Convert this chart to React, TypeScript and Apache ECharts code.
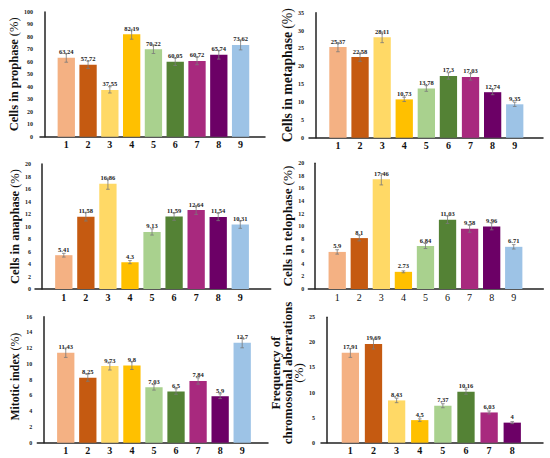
import React, { useEffect, useRef } from "react";
import * as echarts from "echarts";

const FONT = "'Liberation Serif', 'Times New Roman', serif";

const colors9 = ["#F4B183", "#C55A11", "#FFD966", "#FFC000", "#A9D18E", "#548235", "#A8297E", "#6C0066", "#9DC3E6"];
const categories9 = ["1", "2", "3", "4", "5", "6", "7", "8", "9"];
const categories8 = ["1", "2", "3", "4", "5", "6", "7", "8"];

const prophase = [63.24, 57.72, 37.55, 82.19, 70.22, 60.05, 60.72, 65.74, 73.62];
const prophaseErr = [3.5, 3, 2.5, 4, 3.5, 3, 3, 3.5, 4];
const prophaseLabels = ["63,24", "57,72", "37,55", "82,19", "70,22", "60,05", "60,72", "65,74", "73,62"];

const metaphase = [25.37, 22.58, 28.11, 10.73, 13.78, 17.3, 17.03, 12.74, 9.35];
const metaphaseErr = [1.3, 1.2, 1.5, 0.6, 0.8, 0.9, 0.9, 0.7, 0.6];
const metaphaseLabels = ["25,37", "22,58", "28,11", "10,73", "13,78", "17,3", "17,03", "12,74", "9,35"];

const anaphase = [5.41, 11.58, 16.86, 4.3, 9.13, 11.59, 12.64, 11.54, 10.31];
const anaphaseErr = [0.3, 0.7, 0.9, 0.25, 0.5, 0.6, 0.7, 0.6, 0.6];
const anaphaseLabels = ["5.41", "11,58", "16,86", "4.3", "9.13", "11,59", "12,64", "11,54", "10,31"];

const telophase = [5.9, 8.1, 17.46, 2.73, 6.84, 11.03, 9.58, 9.96, 6.71];
const telophaseErr = [0.35, 0.45, 0.9, 0.15, 0.4, 0.6, 0.55, 0.55, 0.35];
const telophaseLabels = ["5.9", "8.1", "17.46", "2.73", "6.84", "11.03", "9.58", "9.96", "6.71"];

const mitotic = [11.43, 8.25, 9.73, 9.8, 7.03, 6.5, 7.84, 5.9, 12.7];
const mitoticErr = [0.6, 0.45, 0.5, 0.5, 0.35, 0.35, 0.4, 0.3, 0.65];
const mitoticLabels = ["11,43", "8,25", "9,73", "9,8", "7,03", "6,5", "7,84", "5,9", "12,7"];

const aberr = [17.91, 19.69, 8.43, 4.5, 7.37, 10.16, 6.03, 4];
const aberrErr = [0.9, 1.0, 0.45, 0.25, 0.4, 0.5, 0.3, 0.2];
const aberrLabels = ["17,91", "19,69", "8,43", "4,5", "7,37", "10,16", "6,03", "4"];

type Panel = {
  cats: string[];
  values: number[];
  err: number[];
  labels: string[];
  title: string;
  yMax: number;
  yInterval: number;
  grid: { left: number; top: number; width: number; height: number };
  xMin: number;
  xMax: number;
  nameGap: number;
  titleSize: number;
  lineH: number;
  namePad: number[];
  catBold: boolean;
  tickMargin: number;
};

const panels: Panel[] = [
  {
    cats: categories9, values: prophase, err: prophaseErr, labels: prophaseLabels,
    title: "{b|Cells in prophase} {r|(%)}", yMax: 100, yInterval: 10,
    grid: { left: 40, top: 12, width: 225, height: 124.7 }, xMin: -0.206, xMax: 10.12,
    nameGap: 14, titleSize: 12.5, lineH: 14, namePad: [0, 0, 0, 0], catBold: true, tickMargin: 7,
  },
  {
    cats: categories9, values: metaphase, err: metaphaseErr, labels: metaphaseLabels,
    title: "{b|Cells in metaphase} {r|(%)}", yMax: 35, yInterval: 5,
    grid: { left: 309, top: 12.7, width: 234, height: 125 }, xMin: -0.31, xMax: 10.28,
    nameGap: 12, titleSize: 13.8, lineH: 15, namePad: [0, 0, 0, 0], catBold: true, tickMargin: 5,
  },
  {
    cats: categories9, values: anaphase, err: anaphaseErr, labels: anaphaseLabels,
    title: "{b|Cells in anaphase} {r|(%)}", yMax: 20, yInterval: 2,
    grid: { left: 35, top: 164, width: 235.7, height: 125 }, xMin: -0.306, xMax: 10.38,
    nameGap: 10, titleSize: 12.5, lineH: 14, namePad: [0, 0, 0, 0], catBold: true, tickMargin: 4,
  },
  {
    cats: categories9, values: telophase, err: telophaseErr, labels: telophaseLabels,
    title: "{b|Cells in telophase} {r|(%)}", yMax: 20, yInterval: 2,
    grid: { left: 308.3, top: 163.3, width: 235, height: 125.7 }, xMin: -0.31, xMax: 10.34,
    nameGap: 10, titleSize: 13.2, lineH: 15, namePad: [0, 0, 0, 0], catBold: false, tickMargin: 4,
  },
  {
    cats: categories9, values: mitotic, err: mitoticErr, labels: mitoticLabels,
    title: "{b|Mitotic index} {r|(%)}", yMax: 16, yInterval: 2,
    grid: { left: 37.3, top: 316.7, width: 230.7, height: 126 }, xMin: -0.29, xMax: 10.17,
    nameGap: 16, titleSize: 11.8, lineH: 13, namePad: [0, 0, 0, 6], catBold: true, tickMargin: 5,
  },
  {
    cats: categories8, values: aberr, err: aberrErr, labels: aberrLabels,
    title: "{b|Frequency of}\n{b|chromosomal aberrations}\n{r|(%)}", yMax: 25, yInterval: 5,
    grid: { left: 321, top: 317.3, width: 222, height: 125.4 }, xMin: -0.27, xMax: 9.33,
    nameGap: -3, titleSize: 13, lineH: 11.5, namePad: [0, 0, 0, 14], catBold: true, tickMargin: 6,
  },
];

export default function App() {
  const ref = useRef<HTMLDivElement>(null);
  useEffect(() => {
    if (!ref.current) return;
    const chart = echarts.init(ref.current, undefined, { renderer: "svg" });
    const grids: any[] = [];
    const xAxes: any[] = [];
    const yAxes: any[] = [];
    const series: any[] = [];
    panels.forEach((p, k) => {
      grids.push({ ...p.grid, containLabel: false });
      xAxes.push({
        type: "value",
        gridIndex: k,
        min: p.xMin,
        max: p.xMax,
        splitLine: { show: false },
        axisTick: { show: false },
        axisLine: { show: true, lineStyle: { color: "#222", width: 1.5 } },
        axisLabel: {
          customValues: p.cats.map((_, i) => i + 1),
          formatter: (v: number) => p.cats[Math.round(v) - 1] ?? "",
          fontFamily: FONT,
          fontSize: 10,
          fontWeight: p.catBold ? "bold" : "normal",
          color: "#111",
          margin: 3,
        },
      });
      yAxes.push({
        type: "value",
        gridIndex: k,
        min: 0,
        max: p.yMax,
        interval: p.yInterval,
        splitLine: { show: false },
        axisTick: { show: false },
        axisLine: { show: true, lineStyle: { color: "#222", width: 1.5 } },
        axisLabel: { fontFamily: FONT, fontSize: 6, fontWeight: "bold", color: "#222", margin: p.tickMargin },
        name: p.title,
        nameLocation: "middle",
        nameRotate: 90,
        nameGap: p.nameGap,
        nameTextStyle: {
          fontFamily: FONT,
          color: "#111",
          align: "center",
          padding: p.namePad,
          rich: {
            b: { fontFamily: FONT, fontSize: p.titleSize, fontWeight: "bold", color: "#111", lineHeight: p.lineH },
            r: { fontFamily: FONT, fontSize: p.titleSize, fontWeight: "normal", color: "#111", lineHeight: p.lineH },
          },
        },
      });
      series.push({
        type: "bar",
        xAxisIndex: k,
        yAxisIndex: k,
        barWidth: 17.3,
        data: p.values.map((v, i) => ({ value: [i + 1, v], itemStyle: { color: colors9[i] } })),
        label: {
          show: true,
          position: "top",
          distance: 2.5,
          formatter: (prm: any) => p.labels[prm.dataIndex],
          fontFamily: FONT,
          fontSize: 6.5,
          fontWeight: "bold",
          color: "#222",
        },
      });
      series.push({
        type: "custom",
        xAxisIndex: k,
        yAxisIndex: k,
        z: 5,
        data: p.values.map((v, i) => [i + 1, v, p.err[i]]),
        renderItem: (params: any, api: any) => {
          const x = api.value(0);
          const y = api.value(1);
          const e = api.value(2);
          const t = api.coord([x, y + e]);
          const b = api.coord([x, y - e]);
          const cap = 1.8;
          const style = { stroke: "#7a7a7a", lineWidth: 0.8 };
          return {
            type: "group",
            children: [
              { type: "line", shape: { x1: t[0], y1: t[1], x2: b[0], y2: b[1] }, style },
              { type: "line", shape: { x1: t[0] - cap, y1: t[1], x2: t[0] + cap, y2: t[1] }, style },
              { type: "line", shape: { x1: b[0] - cap, y1: b[1], x2: b[0] + cap, y2: b[1] }, style },
            ],
          };
        },
      });
    });
    chart.setOption({
      animation: false,
      backgroundColor: "#ffffff",
      grid: grids,
      xAxis: xAxes,
      yAxis: yAxes,
      series,
    });
    return () => chart.dispose();
  }, []);
  return <div ref={ref} style={{ position: "fixed", left: 0, top: 0, width: 550, height: 458 }} />;
}
